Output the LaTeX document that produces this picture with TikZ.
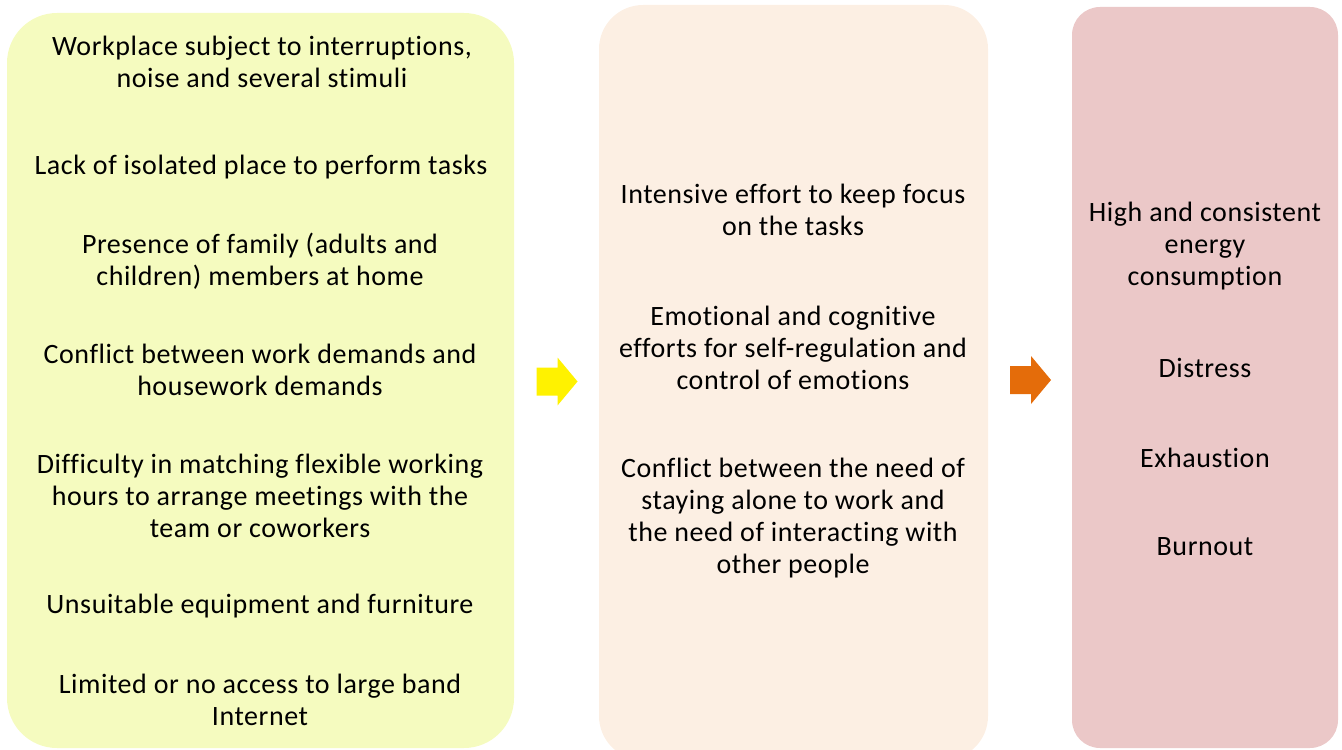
\documentclass[tikz,border=0pt]{standalone}
\usepackage{fontspec}
\setmainfont{Carlito}[Ligatures=NoCommon, LetterSpace=2]
\usepackage{tikz}
\usetikzlibrary{positioning,calc}
\definecolor{causefill}{HTML}{F5FBBF}
\definecolor{effortfill}{HTML}{FCEFE3}
\definecolor{resultfill}{HTML}{EBC8C8}
\definecolor{arroworange}{HTML}{E46C0A}
\tikzstyle{panel} = [inner sep=0pt, outer sep=0pt]
\tikzstyle{item} = [align=center, inner sep=0pt, font=\fontsize{14}{16}\selectfont]
\tikzstyle{blockarrow} = [draw=none]

\begin{document}
\begin{tikzpicture}[x=0.5pt,y=-0.5pt]
\useasboundingbox (0,0) rectangle (1342,749);
% the three panels
\node[panel, fill=causefill, rounded corners=25pt, minimum width=253.5pt, minimum height=367.5pt] (causes) at (260.5,380.5) {};
\node[panel, fill=effortfill, rounded corners=22pt, minimum width=194.5pt, minimum height=377.5pt] (efforts) at (793.5,382.5) {};
\node[panel, fill=resultfill, rounded corners=14pt, minimum width=133pt, minimum height=370.5pt] (results) at (1205,377.5) {};
% left panel
\node[item] (c1) at (262,62) {Workplace subject to interruptions,\\noise and several stimuli};
\node[item] (c2) at (261,167) {Lack of isolated place to perform tasks};
\node[item] (c3) at (260,261) {Presence of family (adults and\\children) members at home};
\node[item] (c4) at (260,370) {Conflict between work demands and\\housework demands};
\node[item] (c5) at (260,496) {Difficulty in matching flexible working\\hours to arrange meetings with the\\team or coworkers};
\node[item] (c6) at (260,606) {Unsuitable equipment and furniture};
\node[item] (c7) at (260,700) {Limited or no access to large band\\Internet};
% middle panel
\node[item] (e1) at (793,210) {Intensive effort to keep focus\\on the tasks};
\node[item] (e2) at (793,348) {Emotional and cognitive\\efforts for self-regulation and\\control of emotions};
\node[item] (e3) at (793,518) {Conflict between the need of\\staying alone to work and\\the need of interacting with\\other people};
% right panel
\node[item] (r1) at (1205,246) {High and consistent\\energy\\consumption};
\node[item] (r2) at (1205,368) {Distress};
\node[item] (r3) at (1205,458) {Exhaustion};
\node[item] (r4) at (1205,547) {Burnout};
% block arrows between the panels
\coordinate (a1) at ($(causes.east)!0.5!(efforts.west)$);
\coordinate (a2) at ($(efforts.east)!0.5!(results.west)$);
\fill[blockarrow, yellow, shift={(a1)}] (-20,-14) -- (1,-14) -- (1,-24) -- (21,0) -- (1,24) -- (1,14) -- (-20,14) -- cycle;
\fill[blockarrow, arroworange, shift={(a2)}] (-20,-14) -- (1,-14) -- (1,-24) -- (21,0) -- (1,24) -- (1,14) -- (-20,14) -- cycle;
\end{tikzpicture}
\end{document}
